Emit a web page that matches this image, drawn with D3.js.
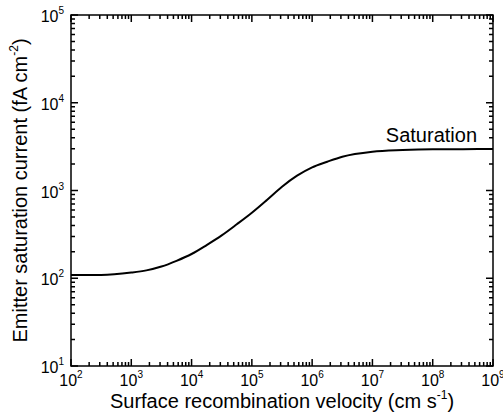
<!DOCTYPE html>
<html>
<head>
<meta charset="utf-8">
<script src="https://cdn.jsdelivr.net/npm/d3@7"></script>
<style>
  body { margin: 0; background: #fff; }
  svg { font-family: Arial, "Liberation Sans", sans-serif; }
</style>
</head>
<body>
<div id="chart"></div>
<script>
// surface recombination velocity (cm/s) and emitter saturation current (fA/cm2)
var sVelocity = [100, 316, 1000, 1778, 3162, 5623, 10000, 17783, 31623, 56234, 100000, 177828,
                 316228, 562341, 1000000, 1778279, 3162278, 10000000, 31622777, 100000000, 316227766, 1000000000];
var j0e = [109, 109, 116, 123, 136, 158, 189, 239, 308, 412, 558, 780,
           1104, 1475, 1837, 2128, 2427, 2767, 2890, 2950, 2960, 2970];

var xDecades = [2, 3, 4, 5, 6, 7, 8, 9];
var yDecades = [1, 2, 3, 4, 5];

var margin = { left: 71, right: 10, top: 15, bottom: 48 };
var width = 503 - margin.left - margin.right,
    height = 414 - margin.top - margin.bottom;

var svg = d3.select("#chart")
    .append("svg")
        .attr("width", 503)
        .attr("height", 414);

var g = svg.append("g")
    .attr("transform", "translate(" + margin.left + "," + margin.top + ")");

var x = d3.scaleLog().domain([1e2, 1e9]).range([0, width]);
var y = d3.scaleLog().domain([1e1, 1e5]).range([height, 0]);

function tickList(decs) {
  var out = [];
  decs.forEach(function(d, i) {
    out.push({ v: Math.pow(10, d), major: true });
    if (i < decs.length - 1) {
      for (var k = 2; k < 10; k++) out.push({ v: k * Math.pow(10, d), major: false });
    }
  });
  return out;
}

var xTicks = tickList(xDecades);
var yTicks = tickList(yDecades);

// inward ticks on all four sides, drawn as one path
var tp = d3.path();
xTicks.forEach(function(t) {
  var len = t.major ? 7 : 4, px = x(t.v);
  tp.moveTo(px, height); tp.lineTo(px, height - len);
  tp.moveTo(px, 0); tp.lineTo(px, len);
});
yTicks.forEach(function(t) {
  var len = t.major ? 7 : 4, py = y(t.v);
  tp.moveTo(0, py); tp.lineTo(len, py);
  tp.moveTo(width, py); tp.lineTo(width - len, py);
});
g.append("path")
    .attr("d", tp.toString())
    .attr("fill", "none")
    .attr("stroke", "#000")
    .attr("stroke-width", 1.5);

// frame
g.append("rect")
    .attr("width", width)
    .attr("height", height)
    .attr("fill", "none")
    .attr("stroke", "#000")
    .attr("stroke-width", 1.5);

// tick labels with superscripts
xDecades.forEach(function(d) {
  var t = g.append("text")
      .attr("x", x(Math.pow(10, d)))
      .attr("y", height + 20)
      .attr("text-anchor", "middle")
      .attr("font-size", "16px");
  t.append("tspan").text("10");
  t.append("tspan").attr("font-size", "10px").attr("dy", -8).text(d);
});

yDecades.forEach(function(d) {
  var t = g.append("text")
      .attr("x", -7)
      .attr("y", y(Math.pow(10, d)) + 7)
      .attr("text-anchor", "end")
      .attr("font-size", "16px");
  t.append("tspan").text("10");
  t.append("tspan").attr("font-size", "10px").attr("dy", -8).text(d);
});

// curve
var line = d3.line()
    .x(function(d, i) { return x(sVelocity[i]); })
    .y(function(d) { return y(d); })
    .curve(d3.curveMonotoneX);

g.append("path")
    .datum(j0e)
    .attr("fill", "none")
    .attr("stroke", "#000")
    .attr("stroke-width", 2)
    .attr("d", line);

g.append("text")
    .attr("x", width - 16)
    .attr("y", y(2970) - 7)
    .attr("text-anchor", "end")
    .attr("font-size", "20px")
    .text("Saturation");

// X label
var xl = g.append("text")
    .attr("x", width / 2)
    .attr("y", height + 42)
    .attr("text-anchor", "middle")
    .attr("font-size", "20px");
xl.append("tspan").text("Surface recombination velocity  (cm s");
xl.append("tspan").attr("font-size", "12px").attr("dy", -9).text("-1");
xl.append("tspan").attr("dy", 9).text(")");

// Y label
var yl = g.append("text")
    .attr("transform", "rotate(-90)")
    .attr("x", -(height / 2))
    .attr("y", -44)
    .attr("text-anchor", "middle")
    .attr("font-size", "20px");
yl.append("tspan").text("Emitter saturation current (fA cm");
yl.append("tspan").attr("font-size", "12px").attr("dy", -9).text("-2");
yl.append("tspan").attr("dy", 9).text(")");
</script>
</body>
</html>
